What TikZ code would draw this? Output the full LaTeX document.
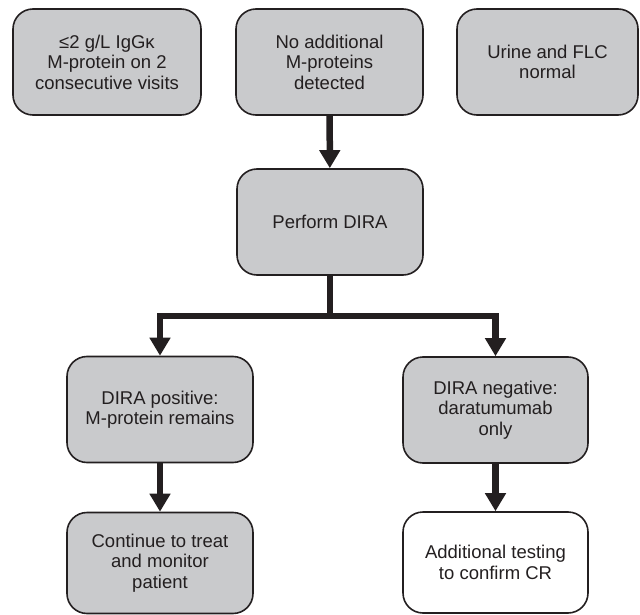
\documentclass[tikz,border=0pt]{standalone}
\usepackage{fontspec}
\setmainfont{Liberation Sans}
\usetikzlibrary{arrows.meta}
\definecolor{boxgray}{HTML}{C9CACC}
\definecolor{ink}{HTML}{231F20}
\begin{document}
\begin{tikzpicture}[x=1pt,y=-1pt,
  box/.style={draw=ink, line width=1.6pt, rounded corners=20pt, fill=boxgray,
    text=ink, align=center, inner sep=0pt,
    font=\fontsize{18.5}{20.5}\selectfont},
  whitebox/.style={box, fill=white},
  arr/.style={draw=ink, line width=6.5pt, line join=miter,
    -{Triangle[width=20pt,length=18pt]}}]
\useasboundingbox (0,0) rectangle (640,615);
\node[box, minimum width=188pt, minimum height=106pt] (A) at (107,62)
  {≤2 g/L IgGκ\\M-protein on 2\\consecutive visits};
\node[box, minimum width=187pt, minimum height=106pt] (B) at (329.5,62)
  {No additional\\M-proteins\\detected};
\node[box, minimum width=181pt, minimum height=106pt] (C) at (547.5,62)
  {Urine and FLC\\normal};
\node[box, minimum width=186pt, minimum height=106pt] (D) at (330,222)
  {Perform DIRA};
\node[box, minimum width=186pt, minimum height=106pt] (E) at (160,409.5)
  {DIRA positive:\\M-protein remains};
\node[box, minimum width=185pt, minimum height=106pt] (F) at (495.5,410)
  {DIRA negative:\\daratumumab\\only};
\node[box, minimum width=186pt, minimum height=101pt] (G) at (160,563)
  {Continue to treat\\and monitor\\patient};
\node[whitebox, minimum width=185pt, minimum height=101pt] (H) at (495.5,562.5)
  {Additional testing\\to confirm CR};
\coordinate (j) at (330,316);
\draw[arr] (B) -- (D);
\draw[arr] (D.south) -- (j) -| (E.north);
\draw[arr] (j) -| (F.north);
\draw[arr] (E) -- (G);
\draw[arr] (F) -- (H);
\end{tikzpicture}
\end{document}
